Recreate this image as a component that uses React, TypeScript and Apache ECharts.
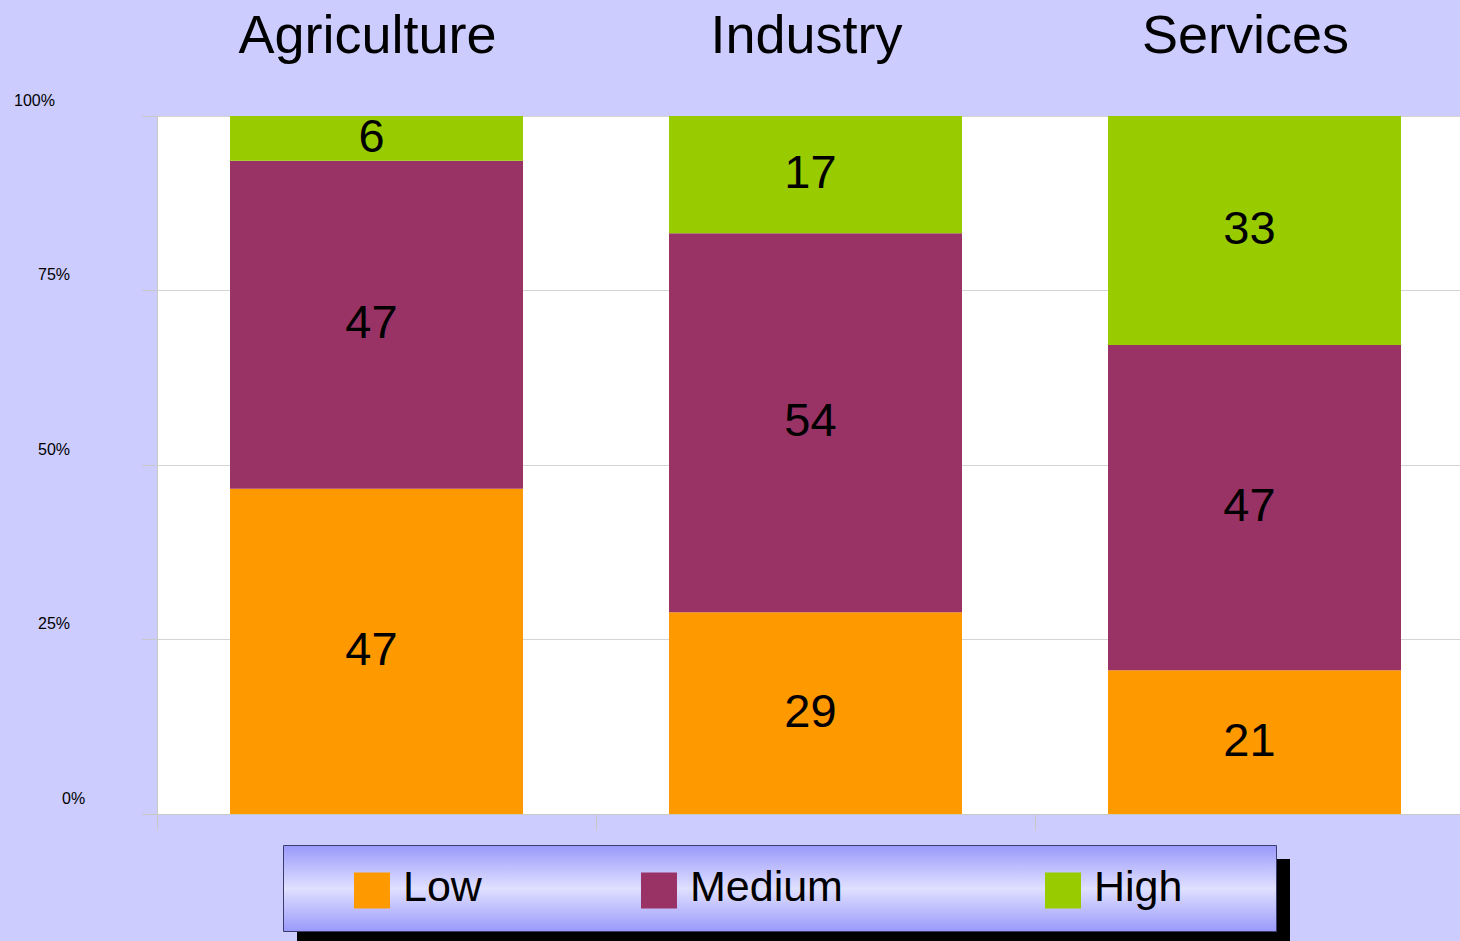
import React, { useEffect, useRef } from "react";
import * as echarts from "echarts";

const categories = ["Agriculture", "Industry", "Services"];
// percentage shares; labels show the rounded values
const lowValues = [46.6, 28.9, 20.6];
const mediumValues = [47.0, 54.3, 46.6];
const highValues = [6.4, 16.8, 32.8];
const seriesNames = ["Low", "Medium", "High"];
const seriesColors = ["#ff9900", "#993366", "#99cc00"];
const yTickLabels: Record<number, string> = { 0: "0%", 25: "25%", 50: "50%", 75: "75%", 100: "100%" };

const FONT = "'Liberation Sans', Arial, sans-serif";

export default function App() {
  const ref = useRef<HTMLDivElement>(null);
  useEffect(() => {
    if (!ref.current) return;
    const chart = echarts.init(ref.current, undefined, { renderer: "svg" });
    const raw = [lowValues, mediumValues, highValues];
    const series = raw.map((arr, si) => ({
      name: seriesNames[si],
      type: "bar",
      stack: "total",
      barWidth: 293,
      itemStyle: { color: seriesColors[si] },
      data: arr,
      label: {
        show: true,
        position: "inside",
        offset: [-5, -3],
        color: "#000",
        fontSize: 47,
        fontFamily: FONT,
        formatter: (p: any) => String(Math.round(p.value)),
      },
    }));
    const legendLefts = [354, 641, 1045];
    chart.setOption({
      animation: false,
      backgroundColor: "#ccccff",
      textStyle: { fontFamily: FONT },
      grid: {
        left: 157,
        right: 0,
        top: 116,
        bottom: 127,
        show: true,
        backgroundColor: "#ffffff",
        borderWidth: 0,
        containLabel: false,
      },
      xAxis: [
        {
          type: "category",
          data: categories,
          position: "bottom",
          axisLine: { show: true, lineStyle: { color: "#c8c8c8", width: 1 } },
          axisTick: { show: true, length: 16, lineStyle: { color: "#c8c8c8" } },
          axisLabel: { show: false },
        },
        {
          type: "category",
          data: categories,
          position: "top",
          axisLine: { show: false },
          axisTick: { show: false },
          axisLabel: {
            show: true,
            fontSize: 54,
            lineHeight: 54,
            color: "#000",
            fontFamily: FONT,
            margin: 55,
            padding: [0, 18, 0, 0],
          },
        },
      ],
      yAxis: {
        type: "value",
        min: 0,
        max: 100,
        interval: 25,
        axisLine: { show: true, lineStyle: { color: "#c8c8c8", width: 1 } },
        axisTick: { show: true, length: 15, lineStyle: { color: "#c8c8c8" } },
        splitLine: { show: true, lineStyle: { color: "#d4d4d4", width: 1 } },
        axisLabel: {
          show: true,
          align: "left",
          verticalAlign: "bottom",
          margin: 143,
          formatter: (v: number) => {
            const t = yTickLabels[v] ?? "";
            if (v === 100) return `{a|${t}}`;
            if (v === 0) return `{c|${t}}`;
            return `{b|${t}}`;
          },
          rich: {
            a: { fontSize: 16, color: "#000", fontFamily: FONT, padding: [0, 0, 8, 0] },
            b: { fontSize: 16, color: "#000", fontFamily: FONT, padding: [0, 0, 8, 24] },
            c: { fontSize: 16, color: "#000", fontFamily: FONT, padding: [0, 0, 8, 48] },
          },
        },
      },
      legend: seriesNames.map((n, i) => ({
        data: [n],
        left: legendLefts[i],
        top: 864,
        orient: "horizontal",
        icon: "rect",
        itemWidth: 36,
        itemHeight: 36,
        padding: 0,
        selectedMode: false,
        formatter: "{t|{name}}",
        textStyle: {
          fontSize: 43,
          color: "#000",
          fontFamily: FONT,
          rich: {
            t: { fontSize: 43, color: "#000", fontFamily: FONT, padding: [0, 0, 10, 8] },
          },
        },
      })),
      graphic: [
        {
          type: "rect",
          shape: { x: 297, y: 859, width: 993, height: 86 },
          style: { fill: "#000" },
          z: -2,
        },
        {
          type: "rect",
          shape: { x: 283.5, y: 845.5, width: 993, height: 86 },
          style: {
            fill: new echarts.graphic.LinearGradient(0, 0, 0, 1, [
              { offset: 0, color: "#9999fc" },
              { offset: 0.5, color: "#e0e0ff" },
              { offset: 1, color: "#9999fc" },
            ]),
            stroke: "#3c3c6a",
            lineWidth: 1,
          },
          z: -1,
        },
      ],
      series,
    });
    return () => chart.dispose();
  }, []);
  return (
    <div style={{ position: "fixed", left: 0, top: 0, width: 1460, height: 941, overflow: "hidden" }}>
      <div ref={ref} style={{ position: "absolute", left: 0, top: 0, width: 1474, height: 941 }} />
    </div>
  );
}
